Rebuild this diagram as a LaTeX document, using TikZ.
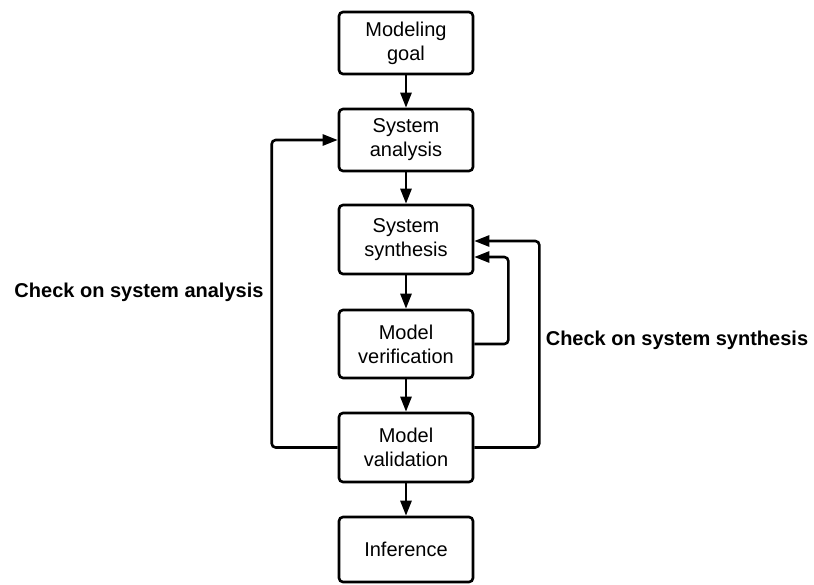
\documentclass[tikz,border=0pt]{standalone}
\usepackage{fontspec}
\setmainfont{Liberation Sans}
\usetikzlibrary{arrows.meta,positioning}

\begin{document}
\begin{tikzpicture}[x=1pt,y=-1pt,
  stage/.style={draw,line width=2.6pt,rounded corners=4pt,minimum width=134pt,
    align=center,font=\fontsize{20}{24}\selectfont,inner sep=0pt},
  flow/.style={line width=2.6pt,rounded corners=4pt,
    -{Triangle[length=15pt,width=11pt]}},
  check/.style={font=\fontsize{20}{24}\selectfont\bfseries,inner sep=0pt}]

  \useasboundingbox (0,0) rectangle (814,584);

  \node[stage,minimum height=62pt] (goal) at (406,43) {Modeling\\goal};
  \node[stage,minimum height=62pt] (analysis) at (406,140) {System\\analysis};
  \node[stage,minimum height=69pt] (synthesis) at (406,239.5) {System\\synthesis};
  \node[stage,minimum height=68pt] (verification) at (406,344) {Model\\verification};
  \node[stage,minimum height=69pt] (validation) at (406,447.5) {Model\\validation};
  \node[stage,minimum height=65pt] (inference) at (406,549.5) {Inference};

  \draw[flow] (goal) -- (analysis);
  \draw[flow] (analysis) -- (synthesis);
  \draw[flow] (synthesis) -- (verification);
  \draw[flow] (verification) -- (validation);
  \draw[flow] (validation) -- (inference);

  % feedback loops
  \draw[flow] (validation.west) -- ++(-66,0) |- (analysis.west);
  \draw[flow] (validation.east) -- ++(65,0) |- ([yshift=-1.5pt]synthesis.east);
  \draw[flow] (verification.east) -- ++(34,0) |- ([yshift=-17.5pt]synthesis.east);

  \node[check] (checkA) at (139,292) {Check on system analysis};
  \node[check] (checkS) at (677,340) {Check on system synthesis};
\end{tikzpicture}
\end{document}
